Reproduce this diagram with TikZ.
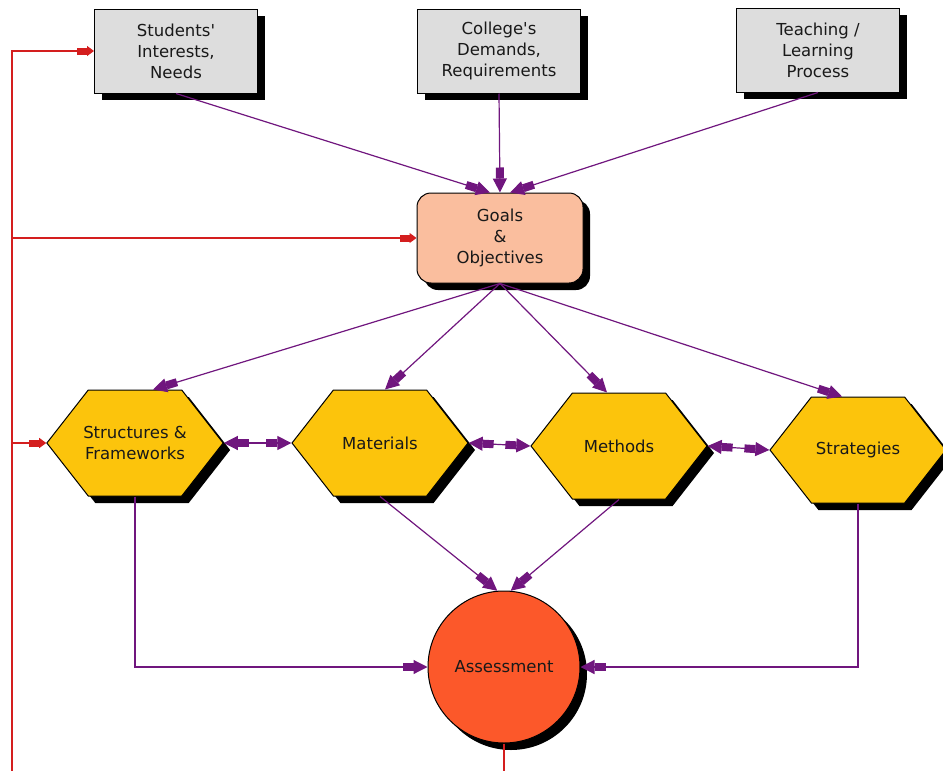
\documentclass[tikz,border=0pt]{standalone}
\usepackage{fontspec}
\setmainfont{DejaVu Sans}
\usetikzlibrary{arrows.meta, positioning, shapes.symbols, shadows}
\definecolor{boxgray}{RGB}{221,221,221}
\definecolor{peach}{RGB}{250,190,158}
\definecolor{gold}{RGB}{252,196,12}
\definecolor{tomato}{RGB}{252,88,42}
\definecolor{plum}{RGB}{112,22,126}
\definecolor{fbred}{RGB}{212,30,30}

\begin{document}
\begin{tikzpicture}[x=1pt, y=-1pt,
  spear/.tip={Rectangle[length=11pt,width=8pt,sep=0pt] Triangle[length=14pt,width=14pt,sep=0pt]},
  redspear/.tip={Rectangle[length=10pt,width=7pt,sep=0pt] Triangle[length=7pt,width=10pt,sep=0pt]},
  shade/.style={drop shadow={fill=black, opacity=1, shadow xshift=7pt, shadow yshift=-7pt}},
  txt/.style={font=\fontsize{16.5}{21}\selectfont, align=center, text=black!90},
  source/.style={txt, rectangle, draw, line width=1pt, fill=boxgray, minimum width=163, minimum height=84, shade},
  goal/.style={txt, rectangle, rounded corners=14pt, draw, line width=1pt, fill=peach, minimum width=166, minimum height=90, shade},
  part/.style={txt, signal, signal to=east and west, signal pointer angle=104, draw, line width=1pt, fill=gold,
    minimum width=176, minimum height=106, inner xsep=-5pt, inner ysep=0pt, shade},
  flow/.style={plum, line width=1.2pt, -{spear}},
  link/.style={plum, line width=1.2pt, {spear}-{spear}},
  fb/.style={fbred, line width=1.2pt}
]
  \useasboundingbox (0,0) rectangle (943,771);
  % Inputs to the goals
  \node[source] (students) at (176,51) {Students\textquotesingle\\Interests,\\Needs};
  \node[source] (college) at (499,51) {College\textquotesingle s\\Demands,\\Requirements};
  \node[source] (teaching) at (818,50) {Teaching /\\Learning\\Process};
  \node[goal] (goals) at (500,238) {Goals\\\&\\Objectives};
  % Course components
  \node[part] (structures) at (135,443) {Structures \&\\Frameworks};
  \node[part] (materials) at (380,443) {Materials};
  \node[part] (methods) at (619,446) {Methods};
  \node[part] (strategies) at (858,450) {Strategies};
  \node[txt, circle, draw, line width=1pt, fill=tomato, minimum size=152, shade] (assessment) at (504,667) {Assessment};
  % Arrows into goals
  \draw[flow] (students.south) -- ([xshift=-10pt]goals.north);
  \draw[flow] (college.south) -- (goals.north);
  \draw[flow] (teaching.south) -- ([xshift=10pt]goals.north);
  % Goals feed every component
  \draw[flow] (goals.south) -- ([xshift=18pt]structures.north);
  \draw[flow] (goals.south) -- ([xshift=5pt]materials.north);
  \draw[flow] (goals.south) -- ([xshift=-12pt]methods.north);
  \draw[flow] (goals.south) -- ([xshift=-16pt]strategies.north);
  % Components linked both ways
  \draw[link] (structures.east) -- (materials.west);
  \draw[link] (materials.east) -- (methods.west);
  \draw[link] (methods.east) -- (strategies.west);
  % Into assessment
  \draw[flow] (materials.south) -- (assessment.95);
  \draw[flow] (methods.south) -- (assessment.85);
  \draw[flow] (structures.south) |- (assessment.west);
  \draw[flow] (strategies.south) |- (assessment.east);
  % Feedback loop
  \coordinate (fbout) at (504,771);
  \coordinate (fbcorner) at (12,771);
  \draw[fb] (assessment.south) -- (fbout);
  \draw[fb, -{redspear}] (fbcorner) |- (students.west);
  \draw[fb, -{redspear}] (fbcorner |- goals.west) -- (goals.west);
  \draw[fb, -{redspear}] (fbcorner |- structures.west) -- (structures.west);
\end{tikzpicture}
\end{document}
